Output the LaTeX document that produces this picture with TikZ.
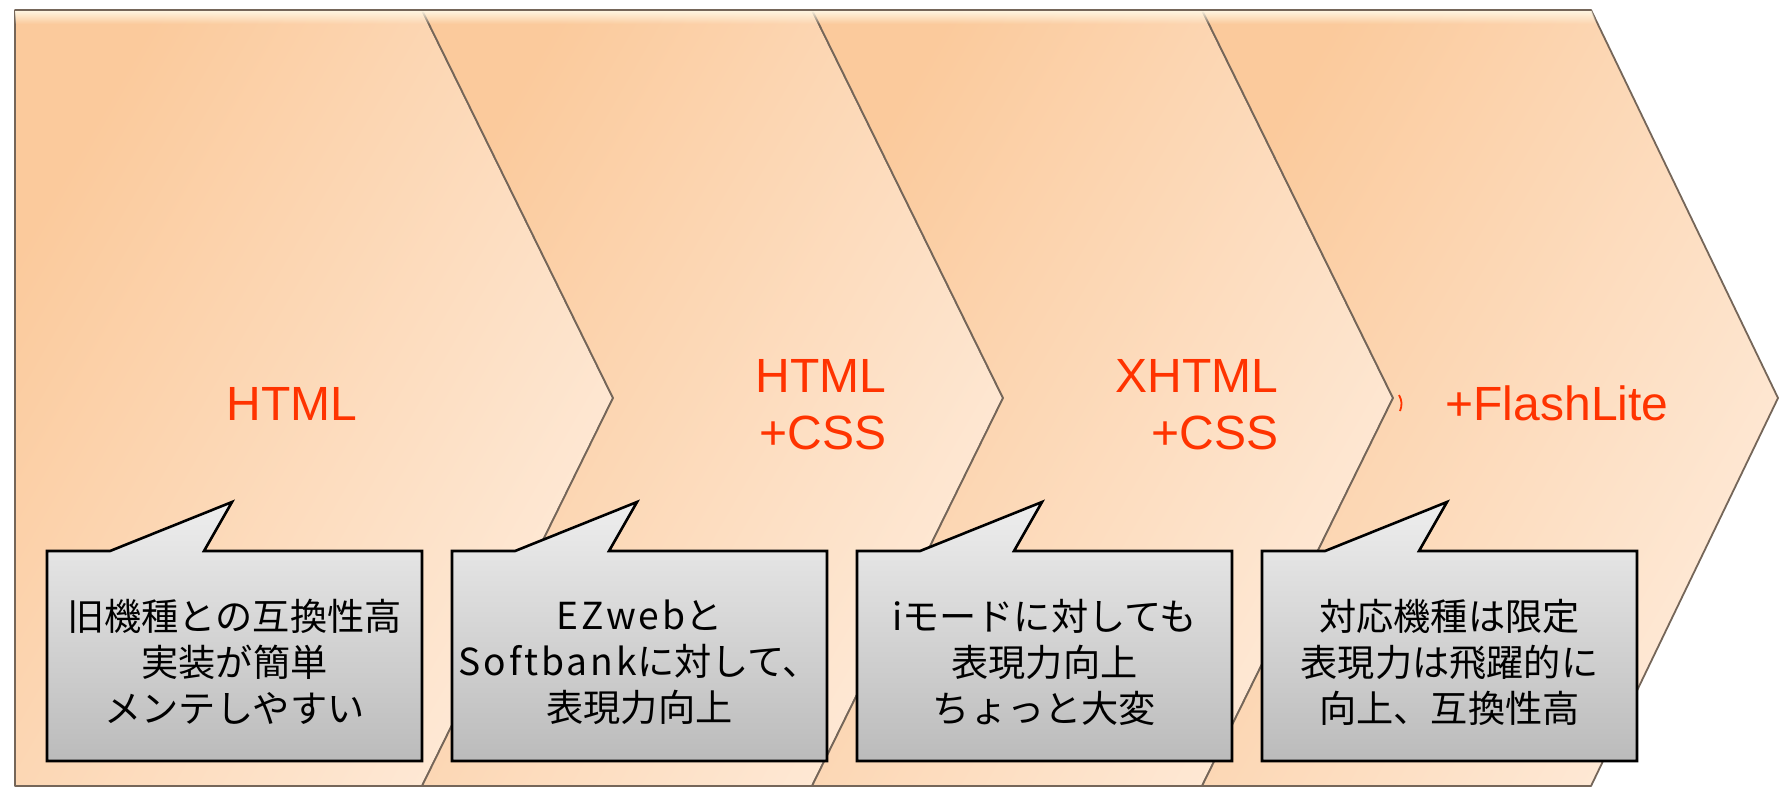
\documentclass[tikz,border=0pt]{standalone}
\usepackage{fontspec}
\setmainfont{Liberation Sans}
\newfontfamily\jp{Noto Sans CJK JP}
\newfontfamily\jpl[LetterSpace=8]{Noto Sans CJK JP}
\usetikzlibrary{fadings}
\definecolor{peachD}{HTML}{FBCA9C}
\definecolor{peachL}{HTML}{FEEAD8}
\definecolor{cream}{HTML}{FFF6E2}
\definecolor{edgec}{HTML}{756659}
\definecolor{redtxt}{HTML}{FF3300}
\definecolor{grayT}{HTML}{EEEEEE}
\definecolor{grayB}{HTML}{BBBBBB}
\tikzset{
  chev/.style={top color=peachD, bottom color=peachL, shading angle=60, draw=edgec, line width=0.9pt, line join=round},
  callout/.style={top color=grayT, bottom color=grayB, draw=black, line width=1.3pt, line join=miter},
  redlabel/.style={text=redtxt, font=\fontsize{24pt}{29pt}\selectfont, inner sep=0pt},
  calltext/.style={align=center, font=\jp\fontsize{18.6pt}{23pt}\selectfont, inner sep=0pt, text=black}
}
\begin{document}
\begin{tikzpicture}[x=0.5pt,y=-0.5pt]
\useasboundingbox[fill=white] (0,0) rectangle (1781,789);
% chevrons
\path[chev] (15,10) -- (422,10) -- (613,398) -- (422,786) -- (15,786) -- cycle;
\path[chev] (422,10) -- (812,10) -- (1003,398) -- (812,786) -- (422,786) -- (613,398) -- cycle;
\path[chev] (812,10) -- (1202,10) -- (1393,398) -- (1202,786) -- (812,786) -- (1003,398) -- cycle;
\path[chev] (1202,10) -- (1591,10) -- (1778,398) -- (1591,786) -- (1202,786) -- (1393,398) -- cycle;
% top highlight bands
\begin{scope}
  \clip (15,10) -- (1591,10) -- (1600,30) -- (15,30) -- cycle;
  \fill[cream, path fading=south] (15,10.5) rectangle (1600,24);
\end{scope}
% callouts
\foreach \x in {47,452,857,1262}{
  \path[callout] (\x,551) -- ({\x+63},551) -- ({\x+185},502) -- ({\x+157},551) -- ({\x+375},551)
    -- ({\x+375},761) -- (\x,761) -- cycle;
}
% red labels
\node[redlabel, anchor=base] (l1) at (292,420) {HTML};
\node[redlabel, anchor=base east] (l2a) at (887,392) {HTML};
\node[redlabel, anchor=base east] (l2b) at (887,449) {+CSS};
\node[redlabel, anchor=base east] (l3a) at (1279,392) {XHTML};
\node[redlabel, anchor=base east] (l3b) at (1279,449) {+CSS};
\node[redlabel, anchor=base] (l4) at (1557,420) {+FlashLite};
\draw[redtxt, line width=0.9pt] (1399,395) to[bend left=25] (1400,411);
% callout texts
\node[calltext] (t1) at (234.5,662) {旧機種との互換性高\\実装が簡単\\メンテしやすい};
\node[calltext] (t2) at (639.5,662) {{\jpl EZweb}と\\{\jpl Softbank}に対して、\\表現力向上};
\node[calltext] (t3) at (1044.5,662) {iモードに対しても\\表現力向上\\ちょっと大変};
\node[calltext] (t4) at (1449.5,662) {対応機種は限定\\表現力は飛躍的に\\向上、互換性高};
\end{tikzpicture}
\end{document}
